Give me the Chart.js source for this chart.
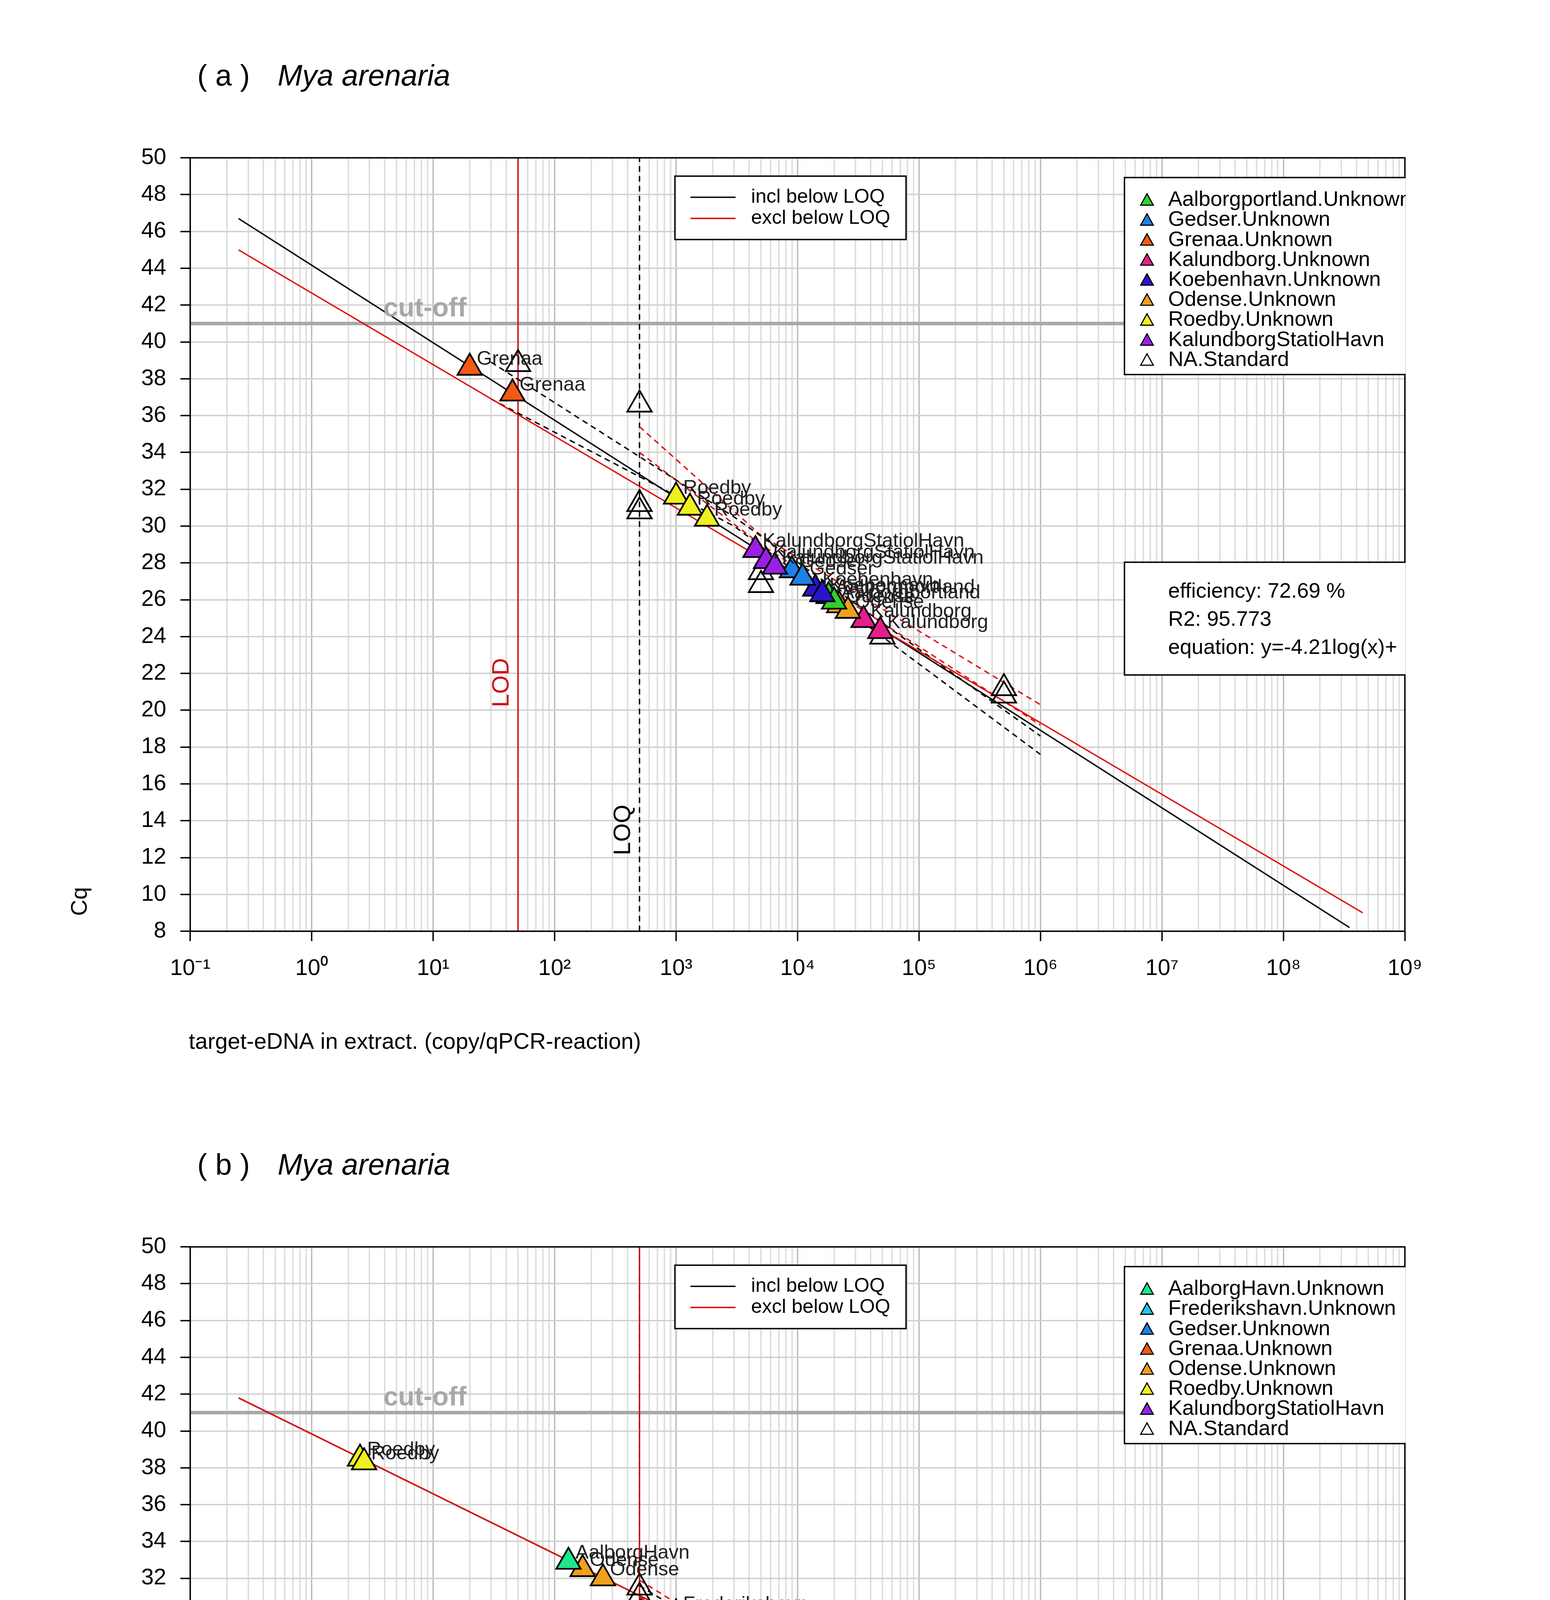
<!DOCTYPE html>
<html><head><meta charset="utf-8">
<script src="https://cdn.jsdelivr.net/npm/chart.js@4.4.0/dist/chart.umd.min.js"></script>
<style>html,body{margin:0;padding:0;background:#fff}canvas{display:block}</style>
</head><body>
<div style="position:relative;width:3968px;height:5612px">
<div style="position:absolute;left:0;top:0;width:3968px;height:2806px"><canvas id="ca"></canvas></div>
<div style="position:absolute;left:0;top:2788px;width:3968px;height:2806px"><canvas id="cb"></canvas></div>
</div>
<script>
const S = 3968/1100;
const FONT = "'Liberation Sans', Arial, sans-serif";
const yTicks = [8,10,12,14,16,18,20,22,24,26,28,30,32,34,36,38,40,42,44,46,48,50];
const xDecades = [-1,0,1,2,3,4,5,6,7,8,9];
const cutOff = 41;

// ---- panel a data ----
const aAalborgportlandX=[18000,20000], aAalborgportlandY=[26.2,25.9];
const aGedserX=[9000,11000], aGedserY=[27.6,27.2];
const aGrenaaX=[20,45], aGrenaaY=[38.6,37.2];
const aKalundborgX=[35000,48000], aKalundborgY=[24.9,24.3];
const aKoebenhavnX=[14000,16000], aKoebenhavnY=[26.6,26.3];
const aOdenseX=[22000,26000], aOdenseY=[25.7,25.4];
const aRoedbyX=[1000,1300,1800], aRoedbyY=[31.6,31.0,30.4];
const aKSHX=[4500,5500,6500], aKSHY=[28.7,28.1,27.8];
const aStdX=[50,500,500,500,5000,5000,50000,500000,500000], aStdY=[38.8,36.6,31.2,30.8,27.5,26.8,24.0,21.2,20.8];
const aFit = {incl:{x:[0.25,3.5e8],y:[46.7,8.2]}, excl:{x:[0.25,4.5e8],y:[45.0,9.0]}};
const aCIblack={x:[30,3000,1e6],up:[38.9,30.5,18.6],lo:[36.9,30.0,17.6]};
const aCIred={x:[500,5000,1e6],up:[35.4,29.5,20.3],lo:[34.0,29.0,19.2]};
const aLOD=50, aLOQ=500;
const aStats=["efficiency: 72.69 %","R2: 95.773","equation: y=-4.21log(x)+"];

// ---- panel b data ----
const bAalborgHavnX=[130], bAalborgHavnY=[32.9];
const bFrederikshavnX=[1000,1300], bFrederikshavnY=[30.1,29.7];
const bGedserX=[7000], bGedserY=[27.4];
const bGrenaaX=[1700,2200], bGrenaaY=[29.3,28.8];
const bOdenseX=[170,250], bOdenseY=[32.5,32.0];
const bRoedbyX=[2.5,2.7], bRoedbyY=[38.5,38.3];
const bKSHX=[3200,4500,5200], bKSHY=[28.4,28.0,27.6];
const bStdX=[500,500,50000,50000,500000,500000,500000], bStdY=[31.5,31.0,24.1,23.7,22.2,21.6,21.2];
const bFit = {incl:{x:[0.25,4.5e8],y:[41.8,11.7]}, excl:{x:[0.25,4.5e8],y:[41.8,11.7]}};
const bCIblack={x:[500,5000,1e6],up:[31.6,27.6,20.9],lo:[30.9,27.2,19.5]};
const bCIred={x:[500,5000,1e6],up:[31.9,27.8,21.2],lo:[31.0,27.3,19.2]};
const bLOD=500, bLOQ=500;
const bStats=["efficiency: 103.22 %","R2: 99.024","equation: y=-3.25log(x)+"];

const C={Aalborgportland:"#2fd12f",AalborgHavn:"#1ee68c",Frederikshavn:"#1ec8f0",Gedser:"#1e7fe6",Grenaa:"#f05a14",Kalundborg:"#e61e8c",Koebenhavn:"#2a14cc",Odense:"#f0a01e",Roedby:"#f0f01e",KSH:"#9b1ee6"};

function sup(n){const m={'-':'⁻','0':'⁰','1':'¹','2':'²','3':'³','4':'⁴','5':'⁵','6':'⁶','7':'⁷','8':'⁸','9':'⁹'};return String(n).split('').map(c=>m[c]).join('');}
const xTickVals=[];xDecades.forEach(d=>{for(let k=1;k<=9;k++){if(d===9&&k>1)break;xTickVals.push(+(k*Math.pow(10,d)).toPrecision(3));}});
function isMajor(v){const l=Math.log10(v);return Math.abs(l-Math.round(l))<1e-6;}

function pts(xs,ys,labels){return xs.map((x,i)=>({x,y:ys[i],lab:labels?labels[i]:null}));}
function series(xs,ys,col,lab){return {type:'scatter',data:pts(xs,ys,xs.map(()=>lab)),pointStyle:'triangle',pointRadius:10*S,backgroundColor:col,borderColor:'#000',borderWidth:1.2*S,order:1};}
function line(xs,ys,col,dash,w,ord){return {type:'line',data:pts(xs,ys),borderColor:col,borderWidth:(w||1)*S,borderDash:dash||[],pointRadius:0,fill:false,tension:0,order:ord||5};}

function build(id,p){
 const ds=[];
 ds.push(line([0.1,1e9],[cutOff,cutOff],'#a8a8a8',null,2.5,9));
 ds.push(line([p.lod,p.lod],[8,50],'#d01010',null,1,6));
 ds.push(line([p.loq,p.loq],[8,50],'#000',[4*S,3*S],1,7));
 ds.push(line(p.fit.incl.x,p.fit.incl.y,'#000',null,1,5));
 ds.push(line(p.fit.excl.x,p.fit.excl.y,'#e01010',null,1,4));
 ds.push(line(p.ciB.x,p.ciB.up,'#000',[4*S,3*S]));ds.push(line(p.ciB.x,p.ciB.lo,'#000',[4*S,3*S]));
 ds.push(line(p.ciR.x,p.ciR.up,'#e01010',[4*S,3*S]));ds.push(line(p.ciR.x,p.ciR.lo,'#e01010',[4*S,3*S]));
 p.series.forEach(s=>ds.push(series(s[0],s[1],s[2],s[3])));
 const st=series(p.std[0],p.std[1],'rgba(255,255,255,0)',null);ds.push(st);
 const canvas=document.getElementById(id);
 const deco={id:'deco',afterDraw(ch){
  const c=ch.ctx,a=ch.chartArea,xs=ch.scales.x,ys=ch.scales.y;
  c.save();
  c.strokeStyle='#000';c.lineWidth=1*S;c.strokeRect(a.left,a.top,a.right-a.left,a.bottom-a.top);
  c.font=(14*S)+'px '+FONT;c.fillStyle='#222';c.textBaseline='middle';
  ch.data.datasets.forEach((d,i)=>{if(d.type!=='scatter')return;d.data.forEach(pt=>{if(!pt.lab)return;c.fillText(pt.lab,xs.getPixelForValue(pt.x)+5*S,ys.getPixelForValue(pt.y)-6*S);});});
  c.font='bold '+(19*S)+'px '+FONT;c.fillStyle='#a8a8a8';c.textBaseline='alphabetic';c.fillText('cut-off',272*S,ys.getPixelForValue(cutOff)-5*S);
  const rot=(t,x,y,col)=>{c.save();c.translate(x,y);c.rotate(-Math.PI/2);c.font=(17*S)+'px '+FONT;c.fillStyle=col;c.textAlign='center';c.textBaseline='bottom';c.fillText(t,0,0);c.restore();};
  rot('LOD',xs.getPixelForValue(p.lod)-3*S,ys.getPixelForValue(p.lodY),'#d01010');
  rot('LOQ',xs.getPixelForValue(p.loq)-3*S,ys.getPixelForValue(p.loqY),'#000');
  c.font=(21*S)+'px '+FONT;c.fillStyle='#000';c.textBaseline='middle';c.textAlign='left';
  c.fillText('( '+p.tag+' )',140*S,55*S);c.font='italic '+(21*S)+'px '+FONT;c.fillText('Mya arenaria',197*S,55*S);
  c.font=(16*S)+'px '+FONT;c.fillText('target-eDNA in extract. (copy/qPCR-reaction)',134*S,740*S);
  c.save();c.translate(57*S,650*S);c.rotate(-Math.PI/2);c.fillText('Cq',0,0);c.restore();
  c.save();c.beginPath();c.rect(0,0,a.right+0.5*S,ch.height);c.clip();
  const box=(x,y,w,h)=>{c.fillStyle='#fff';c.fillRect(x*S,y*S,w*S,h*S);c.strokeStyle='#000';c.lineWidth=1*S;c.strokeRect(x*S,y*S,w*S,h*S);};
  box(479,125,164,45);
  c.font=(14*S)+'px '+FONT;c.fillStyle='#000';
  [['incl below LOQ','#000',140],['excl below LOQ','#e01010',155]].forEach(r=>{c.strokeStyle=r[1];c.beginPath();c.moveTo(490*S,r[2]*S);c.lineTo(522*S,r[2]*S);c.stroke();c.fillText(r[0],533*S,r[2]*S);});
  const ly=126,lh=p.leg.length*14.2+12;box(798,ly,230,lh);
  c.font=(15*S)+'px '+FONT;
  p.leg.forEach((e,i)=>{const y=(ly+16+i*14.2)*S,x=814*S,r=4.5*S;c.beginPath();c.moveTo(x,y-r);c.lineTo(x+r,y+r*0.8);c.lineTo(x-r,y+r*0.8);c.closePath();c.fillStyle=e[1];c.fill();c.strokeStyle='#000';c.lineWidth=0.8*S;c.stroke();c.fillStyle='#000';c.fillText(e[0],829*S,y);});
  box(798,p.statY,230,80);c.font=(15*S)+'px '+FONT;c.fillStyle='#000';
  p.stats.forEach((t,i)=>c.fillText(t,829*S,(p.statY+21+i*20)*S));
  c.restore();c.restore();
 }};
 return new Chart(canvas,{data:{datasets:ds},plugins:[deco],options:{
  responsive:true,maintainAspectRatio:false,animation:false,devicePixelRatio:1,
  plugins:{legend:{display:false},tooltip:{enabled:false}},
  layout:{padding:{left:75*S,top:112*S,right:103*S,bottom:(778-661-60)*S}},
  scales:{
   x:{type:'logarithmic',min:0.1,max:1e9,afterBuildTicks:ax=>{ax.ticks=xTickVals.map(v=>({value:v}));},
      afterFit:ax=>{ax.height=60*S;},
      ticks:{autoSkip:false,maxRotation:0,padding:10*S,color:'#000',font:{family:FONT,size:16*S},callback:v=>isMajor(v)?'10'+sup(Math.round(Math.log10(v))):''},
      grid:{color:c=>isMajor(c.tick.value)?'#bdbdbd':'#dcdcdc',lineWidth:1*S,tickLength:7*S,tickColor:c=>isMajor(c.tick.value)?'#000':'rgba(0,0,0,0)'},border:{display:false}},
   y:{type:'linear',min:8,max:50,afterBuildTicks:ax=>{ax.ticks=yTicks.map(v=>({value:v}));},
      afterFit:ax=>{ax.width=60*S;},
      ticks:{padding:10*S,color:'#000',font:{family:FONT,size:16*S}},
      grid:{color:'#d0d0d0',lineWidth:1*S,tickLength:7*S,tickColor:'#000'},border:{display:false}}
  }}});
}

build('ca',{tag:'a',fit:aFit,ciB:aCIblack,ciR:aCIred,lod:aLOD,loq:aLOQ,lodY:21.5,loqY:13.5,stats:aStats,statY:399,
 leg:[['Aalborgportland.Unknown',C.Aalborgportland],['Gedser.Unknown',C.Gedser],['Grenaa.Unknown',C.Grenaa],['Kalundborg.Unknown',C.Kalundborg],['Koebenhavn.Unknown',C.Koebenhavn],['Odense.Unknown',C.Odense],['Roedby.Unknown',C.Roedby],['KalundborgStatiolHavn',C.KSH],['NA.Standard','#fff']],
 series:[[aGrenaaX,aGrenaaY,C.Grenaa,'Grenaa'],[aRoedbyX,aRoedbyY,C.Roedby,'Roedby'],[aKSHX,aKSHY,C.KSH,'KalundborgStatiolHavn'],[aGedserX,aGedserY,C.Gedser,'Gedser'],[aKoebenhavnX,aKoebenhavnY,C.Koebenhavn,'Koebenhavn'],[aAalborgportlandX,aAalborgportlandY,C.Aalborgportland,'Aalborgportland'],[aOdenseX,aOdenseY,C.Odense,'Odense'],[aKalundborgX,aKalundborgY,C.Kalundborg,'Kalundborg']],
 std:[aStdX,aStdY]});
build('cb',{tag:'b',fit:bFit,ciB:bCIblack,ciR:bCIred,lod:bLOD,loq:bLOQ,lodY:21.5,loqY:13.5,stats:bStats,statY:399,
 leg:[['AalborgHavn.Unknown',C.AalborgHavn],['Frederikshavn.Unknown',C.Frederikshavn],['Gedser.Unknown',C.Gedser],['Grenaa.Unknown',C.Grenaa],['Odense.Unknown',C.Odense],['Roedby.Unknown',C.Roedby],['KalundborgStatiolHavn',C.KSH],['NA.Standard','#fff']],
 series:[[bRoedbyX,bRoedbyY,C.Roedby,'Roedby'],[bAalborgHavnX,bAalborgHavnY,C.AalborgHavn,'AalborgHavn'],[bOdenseX,bOdenseY,C.Odense,'Odense'],[bFrederikshavnX,bFrederikshavnY,C.Frederikshavn,'Frederikshavn'],[bGrenaaX,bGrenaaY,C.Grenaa,'Grenaa'],[bKSHX,bKSHY,C.KSH,'KalundborgStatiolHavn'],[bGedserX,bGedserY,C.Gedser,'Gedser']],
 std:[bStdX,bStdY]});
</script>
</body></html>
